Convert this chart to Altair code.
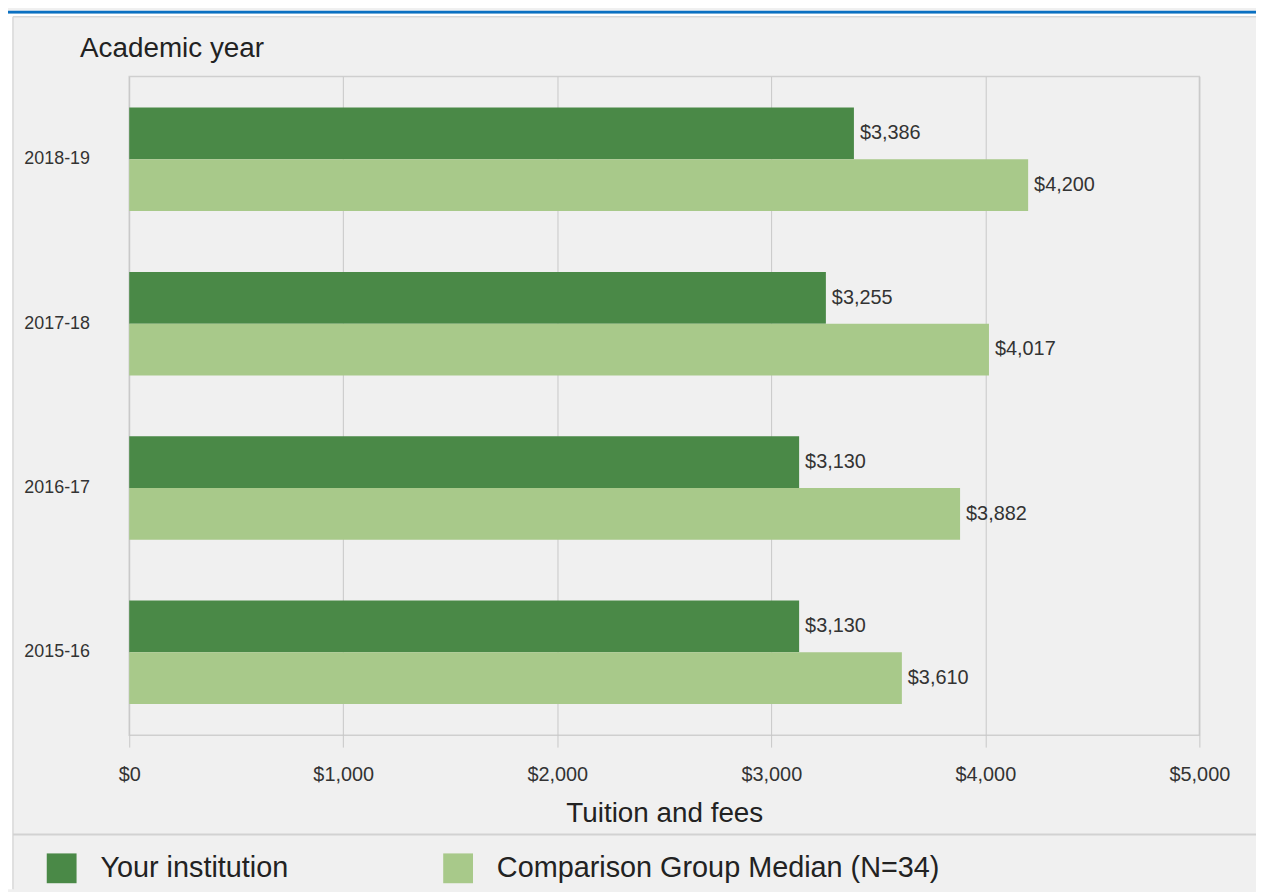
import altair as alt
import pandas as pd

# ---- data ----
years = ["2018-19", "2017-18", "2016-17", "2015-16"]
series = ["Your institution", "Comparison Group Median (N=34)"]
institution = [3386, 3255, 3130, 3130]
comparison = [4200, 4017, 3882, 3610]
x_ticks = [0, 1000, 2000, 3000, 4000, 5000]
colors = ["#4a8947", "#a8c98a"]

rows = []
for yr, a, b in zip(years, institution, comparison):
    rows.append({"year": yr, "series": series[0], "value": a})
    rows.append({"year": yr, "series": series[1], "value": b})
df = pd.DataFrame(rows)

# ---- layout ----
W, H = 1077, 663          # plot area
PL, PT = 122, 66          # plot origin inside the chart
TOTAL_W, TOTAL_H = 1256, 884
FONT = "Liberation Sans"

y_enc = alt.Y(
    "year:N",
    sort=years,
    scale=alt.Scale(paddingInner=0.37, paddingOuter=0.19),
    axis=alt.Axis(
        title="Academic year", titleAngle=0, titleAlign="left",
        titleBaseline="alphabetic", titleX=-50, titleY=-20,
        titleFontSize=28, titleFontWeight="normal", titleColor="#222",
        labelFontSize=18, labelColor="#333", labelPadding=40,
        ticks=False, domain=False, grid=False,
    ),
)
x_enc = alt.X(
    "value:Q",
    scale=alt.Scale(domain=[0, 5000], nice=False),
    axis=alt.Axis(
        values=x_ticks, format="$,.0f", labelFlush=False,
        title="Tuition and fees", titleFontSize=28, titleFontWeight="normal",
        titleColor="#222", titleBaseline="alphabetic", titleY=87,
        labelFontSize=20, labelColor="#333", labelPadding=18,
        tickSize=12, tickColor="#c8c8c8", grid=True, gridColor="#c8c8c8",
        domain=False,
    ),
)
color_enc = alt.Color(
    "series:N",
    sort=series,
    scale=alt.Scale(domain=series, range=colors),
    legend=alt.Legend(
        title=None, orient="none", legendX=-83, legendY=782,
        direction="horizontal", columns=2, columnPadding=155,
        symbolType="square", symbolSize=900, symbolStrokeWidth=0,
        symbolOpacity=1, labelFontSize=29, labelColor="#222",
        labelOffset=24, padding=0, labelLimit=700,
    ),
)

bars = alt.Chart(df).mark_bar(opacity=1).encode(
    y=y_enc,
    yOffset=alt.YOffset("series:N", sort=series),
    x=x_enc,
    color=color_enc,
)
labels = alt.Chart(df).mark_text(
    align="left", baseline="middle", dx=6, fontSize=20, color="#333"
).encode(
    y=alt.Y("year:N", sort=years),
    yOffset=alt.YOffset("series:N", sort=series),
    x="value:Q",
    text=alt.Text("value:Q", format="$,.0f"),
)

# ---- decoration (panel frame, blue strip, separator) ----
one = alt.Data(values=[{}])
blue = alt.Chart(one).mark_rect(color="#0a70c2").encode(
    x=alt.value(-PL), x2=alt.value(TOTAL_W - PL),
    y=alt.value(-PT), y2=alt.value(-PT + 3))
white_top = alt.Chart(one).mark_rect(color="#ffffff").encode(
    x=alt.value(-PL), x2=alt.value(TOTAL_W - PL),
    y=alt.value(-PT + 3), y2=alt.value(-60))
white_left = alt.Chart(one).mark_rect(color="#ffffff").encode(
    x=alt.value(-PL), x2=alt.value(-117),
    y=alt.value(-60), y2=alt.value(TOTAL_H - PT))
border_top = alt.Chart(one).mark_rule(color="#d8d8d8", strokeWidth=1.5).encode(
    x=alt.value(-117), x2=alt.value(TOTAL_W - PL), y=alt.value(-60))
border_left = alt.Chart(one).mark_rule(color="#d8d8d8", strokeWidth=1.5).encode(
    x=alt.value(-117), y=alt.value(-60), y2=alt.value(TOTAL_H - PT))
separator = alt.Chart(one).mark_rule(color="#d2d2d2", strokeWidth=2).encode(
    x=alt.value(-117), x2=alt.value(TOTAL_W - PL), y=alt.value(763))

chart = alt.layer(
    blue, white_top, white_left, border_top, border_left, separator, bars, labels
).properties(
    width=W, height=H,
    autosize=alt.AutoSizeParams(type="none"),
    padding={"left": PL, "top": PT, "right": TOTAL_W - PL - W, "bottom": TOTAL_H - PT - H},
    background="#f0f0f0",
).configure(
    font=FONT,
).configure_view(
    stroke="#cfcfcf", strokeWidth=1.5, fill="#f0f0f0",
)

chart.save("out.html", embed_options={"renderer": "svg", "actions": False})
